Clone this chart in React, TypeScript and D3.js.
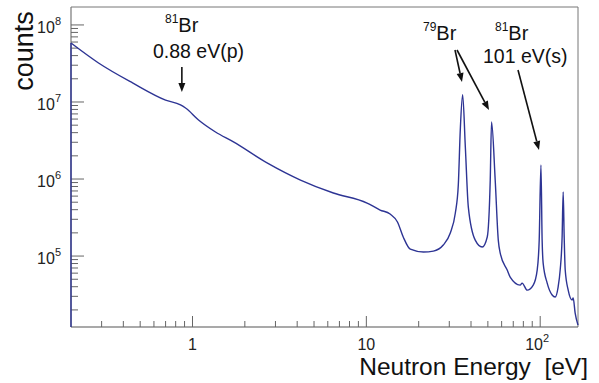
import React from "react";
import * as d3 from "d3";

const energy = [
  0.2, 0.288, 0.452, 0.7, 0.853, 0.912, 1.083, 1.356, 1.72, 2.7, 4.18, 6.46, 10.1, 12.0, 13.7, 15.1,
  16.3, 17.9, 21.3, 24.3, 27.7, 30.4, 32.5, 33.8, 34.7, 35.8, 37.1, 38.6, 42.3, 46.4, 49.6, 51.6,
  52.5, 55.1, 57.4, 58.9, 64.6, 67.2, 76.7, 78.7, 84.2, 91.2, 96.1, 98.7, 101, 102.6, 104, 109.7,
  117.2, 121.9, 126.8, 130.3, 133.7, 135.6, 137.4, 139.3, 144.9, 152.7, 154.8, 158.9, 165,
];
const counts = [
  5.83e7, 3.21e7, 1.77e7, 1.06e7, 9.15e6, 8.36e6, 5.84e6, 4.08e6, 3.03e6, 1.61e6, 9.7e5, 6.58e5, 4.88e5, 3.96e5, 3.51e5, 2.77e5,
  1.77e5, 1.23e5, 1.13e5, 1.16e5, 1.39e5, 1.99e5, 3.62e5, 8.36e5, 4.33e6, 1.24e7, 2.61e6, 4.32e5, 1.61e5, 1.31e5, 1.77e5, 9.7e5,
  5.5e6, 9.7e5, 1.61e5, 1.09e5, 6.58e4, 5.33e4, 4.2e4, 4.46e4, 3.61e4, 4.2e4, 6.58e4, 1.61e5, 1.52e6, 1.61e5, 8.1e4, 4.46e4,
  3.12e4, 2.94e4, 3.96e4, 6.58e4, 1.77e5, 6.78e5, 1.77e5, 6.58e4, 3.61e4, 2.69e4, 2.85e4, 1.82e4, 1.27e4,
];

const xMajor = [1, 10, 100];
const xMajorLabels = ["1", "10", "10|2"];
const yMajor = [1e5, 1e6, 1e7, 1e8];
const yMajorExp = ["5", "6", "7", "8"];

const W = 599;
const H = 383;
const L = 71, R = 578, T = 7, B = 327;
const FONT = "'Liberation Sans', Arial, Helvetica, sans-serif";

export default function App() {
  const x = d3.scaleLog().domain([0.2, 165]).range([L, R]);
  const y = d3.scaleLog().domain([1.2e4, 1.71e8]).range([B, T]);

  const pts: [number, number][] = energy.map((e, i) => [x(e), y(counts[i])]);
  const line = d3.line().curve(d3.curveMonotoneX)(pts) || "";

  const xMinor: number[] = [];
  for (const dec of [0.1, 1, 10]) {
    for (let k = 2; k <= 9; k++) {
      const v = k * dec;
      if (v > 0.2 && v < 165) xMinor.push(v);
    }
  }
  const yMinor: number[] = [];
  for (const dec of [1e4, 1e5, 1e6, 1e7]) {
    for (let k = 2; k <= 9; k++) {
      const v = k * dec;
      if (v > 1.2e4 && v < 1.71e8) yMinor.push(v);
    }
  }

  const tickColor = "#666";
  const lineColor = "#2d3494";

  const arrow = (x1: number, y1: number, x2: number, y2: number, key: string) => {
    const ang = Math.atan2(y2 - y1, x2 - x1);
    const len = 9, half = 3.5;
    const bx = x2 - len * Math.cos(ang), by = y2 - len * Math.sin(ang);
    const p1 = [bx + half * Math.sin(ang), by - half * Math.cos(ang)];
    const p2 = [bx - half * Math.sin(ang), by + half * Math.cos(ang)];
    return (
      <g key={key}>
        <line x1={x1} y1={y1} x2={bx} y2={by} stroke="#111" strokeWidth={1.6} />
        <polygon points={`${x2},${y2} ${p1[0]},${p1[1]} ${p2[0]},${p2[1]}`} fill="#111" />
      </g>
    );
  };

  return (
    <svg width={W} height={H} style={{ position: "absolute", left: 0, top: 0, background: "#fff" }} fontFamily={FONT}>
      <rect x={0} y={0} width={W} height={H} fill="#fff" />
      {/* frame */}
      <line x1={L} y1={T} x2={R} y2={T} stroke="#777" strokeWidth={1} />
      <line x1={R} y1={T} x2={R} y2={B} stroke="#777" strokeWidth={1} />
      <line x1={L} y1={T} x2={L} y2={B} stroke="#777" strokeWidth={1.2} />
      <line x1={L} y1={B} x2={R} y2={B} stroke="#555" strokeWidth={1.2} />

      {/* y ticks */}
      {yMajor.map((v) => (
        <line key={"ym" + v} x1={L} x2={L + 13} y1={y(v)} y2={y(v)} stroke={tickColor} strokeWidth={1} />
      ))}
      {yMinor.map((v) => (
        <line key={"yn" + v} x1={L} x2={L + 7} y1={y(v)} y2={y(v)} stroke={tickColor} strokeWidth={1} />
      ))}
      {yMajor.map((v, i) => (
        <text key={"yl" + v} x={61} y={y(v) + 8} textAnchor="end" fontSize={16} fill="#222">
          10
          <tspan dy={-8} fontSize={11}>{yMajorExp[i]}</tspan>
        </text>
      ))}

      {/* x ticks */}
      {xMajor.map((v) => (
        <line key={"xm" + v} x1={x(v)} x2={x(v)} y1={B} y2={B - 11} stroke={tickColor} strokeWidth={1} />
      ))}
      {xMinor.map((v) => (
        <line key={"xn" + v} x1={x(v)} x2={x(v)} y1={B} y2={B - 6} stroke={tickColor} strokeWidth={1} />
      ))}
      {xMajor.map((v, i) => {
        const lab = xMajorLabels[i];
        if (lab.includes("|")) {
          const [base, exp] = lab.split("|");
          return (
            <text key={"xl" + v} x={x(v) - 3} y={350} textAnchor="middle" fontSize={16} fill="#222">
              {base}
              <tspan dy={-8} fontSize={11}>{exp}</tspan>
            </text>
          );
        }
        return (
          <text key={"xl" + v} x={x(v)} y={350} textAnchor="middle" fontSize={16} fill="#222">
            {lab}
          </text>
        );
      })}

      {/* axis titles */}
      <text x={R + 10} y={375} textAnchor="end" fontSize={24.5} fill="#111" style={{ whiteSpace: "pre" }}>
        {"Neutron Energy  [eV]"}
      </text>
      <text transform="translate(33,51) rotate(-90)" textAnchor="middle" fontSize={27} fill="#111">
        counts
      </text>

      {/* data */}
      <line x1={L} y1={y(counts[0])} x2={L} y2={B} stroke={lineColor} strokeWidth={1.4} />
      <path d={line} fill="none" stroke={lineColor} strokeWidth={1.4} strokeLinejoin="round" />

      {/* annotations */}
      <text x={177} y={32} fontSize={20} fill="#111">
        <tspan fontSize={12} dy={-9} dx={-12}>81</tspan>
        <tspan dy={9}>Br</tspan>
      </text>
      <text x={153} y={58} fontSize={19.5} fill="#111">0.88 eV(p)</text>
      {arrow(x(0.88) - 1, 67, x(0.88) - 1, 92, "a1")}

      <text x={437} y={40} fontSize={20} fill="#111">
        <tspan fontSize={12} dy={-9} dx={-14}>79</tspan>
        <tspan dy={9}>Br</tspan>
      </text>
      {arrow(455, 50, 462, 82, "a2")}
      {arrow(457, 50, 489, 110, "a3")}

      <text x={508} y={40} fontSize={20} fill="#111">
        <tspan fontSize={12} dy={-9} dx={-13}>81</tspan>
        <tspan dy={9}>Br</tspan>
      </text>
      <text x={483} y={63} fontSize={19.5} fill="#111">101 eV(s)</text>
      {arrow(518, 70, 539, 150, "a4")}
    </svg>
  );
}
